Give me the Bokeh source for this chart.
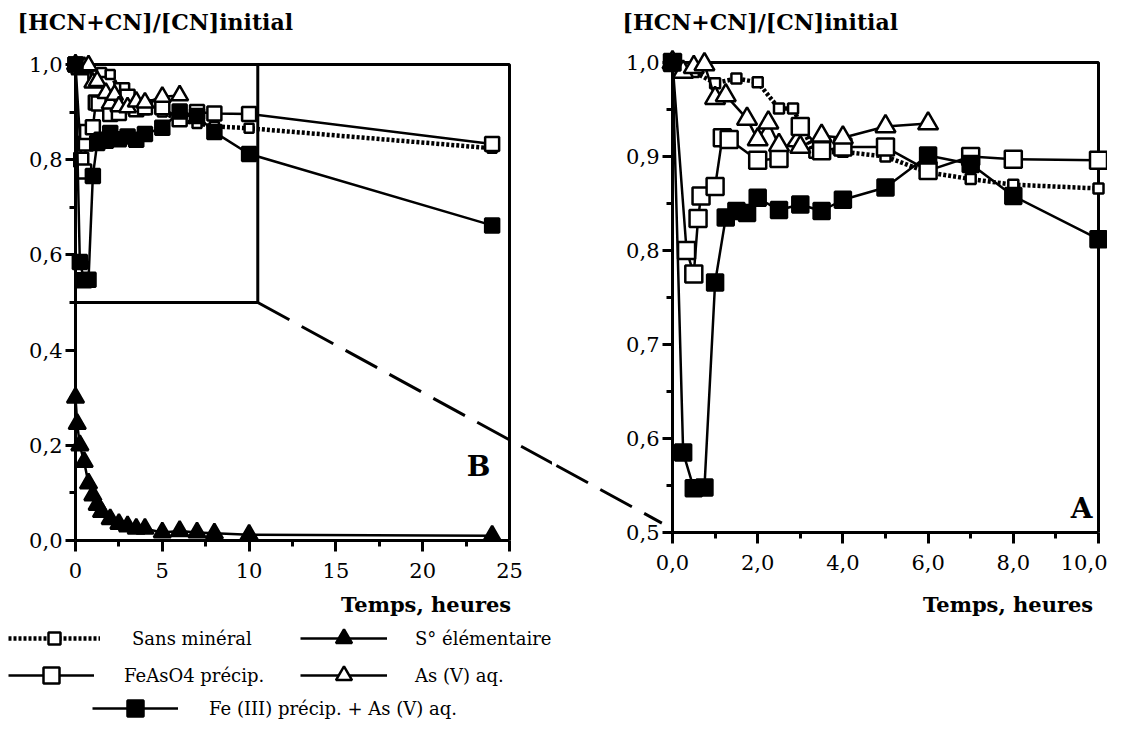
from bokeh.plotting import figure
from bokeh.layouts import row
from bokeh.models import Range1d, FixedTicker, CustomJSTickFormatter, Label, Legend, LegendItem
from bokeh.embed import file_html
from bokeh.resources import INLINE

# ---------------- data ----------------
t_sans = [0, 0.5, 1.0, 1.5, 2.0, 2.5, 2.83, 3.33, 4.0, 5.0, 6.0, 7.0, 8.0, 10.0, 24.0]
c_sans = [1.0, 0.99, 0.978, 0.983, 0.979, 0.951, 0.951, 0.904, 0.905, 0.900, 0.883, 0.876, 0.870, 0.866, 0.824]

t_feaso4 = [0, 0.33, 0.5, 0.6, 0.67, 1.0, 1.17, 1.33, 2.0, 2.5, 3.0, 3.5, 4.0, 5.0, 6.0, 7.0, 8.0, 10.0, 24.0]
c_feaso4 = [1.0, 0.80, 0.775, 0.834, 0.858, 0.868, 0.920, 0.918, 0.896, 0.898, 0.932, 0.906, 0.910, 0.910, 0.885, 0.900, 0.897, 0.896, 0.833]

t_asv = [0, 0.25, 0.5, 0.75, 1.0, 1.25, 1.75, 2.0, 2.25, 2.5, 3.0, 3.5, 4.0, 5.0, 6.0]
c_asv = [1.0, 0.99, 0.995, 0.998, 0.962, 0.965, 0.940, 0.918, 0.936, 0.912, 0.910, 0.922, 0.920, 0.932, 0.935]

t_s0 = [0, 0.1, 0.25, 0.5, 0.75, 1.0, 1.25, 1.5, 2.0, 2.5, 3.0, 3.5, 4.0, 5.0, 6.0, 7.0, 8.0, 10.0, 24.0]
c_s0 = [0.30, 0.245, 0.20, 0.165, 0.12, 0.095, 0.075, 0.06, 0.045, 0.035, 0.03, 0.025, 0.025, 0.017, 0.02, 0.017, 0.015, 0.012, 0.01]

t_fe = [0, 0.25, 0.5, 0.75, 1.0, 1.25, 1.5, 1.75, 2.0, 2.5, 3.0, 3.5, 4.0, 5.0, 6.0, 7.0, 8.0, 10.0, 24.0]
c_fe = [1.0, 0.585, 0.547, 0.548, 0.766, 0.835, 0.842, 0.840, 0.856, 0.843, 0.849, 0.842, 0.854, 0.867, 0.901, 0.892, 0.858, 0.812, 0.662]

labels = ["Sans minéral", "FeAsO4 précip.", "As (V) aq.", "S° élémentaire", "Fe (III) précip. + As (V) aq."]

left_x_ticks = [0, 5, 10, 15, 20, 25]
left_x_minor = [2.5, 7.5, 12.5, 17.5, 22.5]
left_y_ticks = [0.0, 0.2, 0.4, 0.6, 0.8, 1.0]
left_y_minor = [0.1, 0.3, 0.5, 0.7, 0.9]
right_x_ticks = [0, 2, 4, 6, 8, 10]
right_x_minor = [1, 3, 5, 7, 9]
right_y_ticks = [0.5, 0.6, 0.7, 0.8, 0.9, 1.0]
right_y_minor = [0.55, 0.65, 0.75, 0.85, 0.95]

y_title = "[HCN+CN]/[CN]initial"
x_title = "Temps,  heures"

# ---------------- geometry ----------------
LW, LH = 552, 722
RW, RH = 555, 722
L_X0, L_PPX = 75, 17.36          # x=0 at canvas px 75
L_Y0, L_PPY = 540, 476           # y=0 at canvas px 540
R_X0, R_PPX = 672 - LW, 42.6     # x=0 at page px 672
R_Y1, R_PPY = 62, 940            # y=1.0 at px 62

def page_to_left(px, py):
    return ((px - L_X0) / L_PPX, (L_Y0 - py) / L_PPY)

def left_to_page(x, y):
    return (L_X0 + x * L_PPX, L_Y0 - y * L_PPY)

def page_to_right(px, py):
    return ((px - LW - R_X0) / R_PPX, 1.0 - (py - R_Y1) / R_PPY)

def right_to_page(x, y):
    return (LW + R_X0 + x * R_PPX, R_Y1 + (1.0 - y) * R_PPY)

SERIF = "DejaVu Serif"
TICK_SIZE = "21px"

STY = {
    "sans": dict(marker="square", fill="white", dash="3 2", lw=4.5, size=(9, 10)),
    "feaso4": dict(marker="square", fill="white", dash="solid", lw=2.5, size=(14, 17)),
    "asv": dict(marker="triangle", fill="white", dash="solid", lw=2.5, size=(17, 20)),
    "s0": dict(marker="triangle", fill="black", dash="solid", lw=2.5, size=(17, 20)),
    "fe": dict(marker="square", fill="black", dash="solid", lw=2.5, size=(14, 16)),
}


def make_fig(w, h, xr, yr):
    p = figure(width=w, height=h, x_range=Range1d(*xr), y_range=Range1d(*yr),
               output_backend="svg", toolbar_location=None, min_border=0)
    p.outline_line_color = None
    p.grid.visible = False
    p.background_fill_color = "white"
    p.border_fill_color = "white"
    return p


def style_axis(ax, ticks, minor, fmt_code, tick_out, standoff):
    ax.ticker = FixedTicker(ticks=ticks, minor_ticks=minor)
    ax.formatter = CustomJSTickFormatter(code=fmt_code)
    ax.axis_line_width = 3
    ax.axis_line_color = "black"
    ax.major_tick_line_width = 3
    ax.minor_tick_line_width = 3
    ax.major_tick_in = 0
    ax.minor_tick_in = 0
    ax.major_tick_out = tick_out
    ax.minor_tick_out = int(tick_out * 0.6)
    ax.major_label_text_font = SERIF
    ax.major_label_text_font_size = TICK_SIZE
    ax.major_label_text_color = "black"
    ax.major_label_standoff = standoff


def draw(p, xs, ys, sty, size, xmax=None):
    if xmax is not None:
        pts = [(a, b) for a, b in zip(xs, ys) if a <= xmax]
        xs = [a for a, _ in pts]
        ys = [b for _, b in pts]
    lr = p.line(xs, ys, line_color="black", line_width=sty["lw"], line_dash=sty["dash"])
    sr = p.scatter(xs, ys, marker=sty["marker"], size=size, fill_color=sty["fill"],
                   line_color="black", line_width=2.5)
    return lr, sr


COMMA1 = "return tick.toFixed(1).replace('.', ',');"
INT0 = "return tick.toFixed(0);"

# ---------------- left plot (B) ----------------
lx0, ly_top = page_to_left(0, 0)
lx1, ly_bot = page_to_left(LW, LH)
pl = make_fig(LW, LH, (lx0, lx1), (ly_bot, ly_top))
pl.xaxis.fixed_location = 0
pl.xaxis.bounds = (left_x_ticks[0], left_x_ticks[-1])
pl.yaxis.fixed_location = 0
pl.yaxis.bounds = (left_y_ticks[0], left_y_ticks[-1])
style_axis(pl.xaxis[0], left_x_ticks, left_x_minor, INT0, 11, 11)
style_axis(pl.yaxis[0], left_y_ticks, left_y_minor, COMMA1, 10, 3)

XMAX_L, YMAX_L = left_x_ticks[-1], left_y_ticks[-1]
pl.line([0, XMAX_L, XMAX_L], [YMAX_L, YMAX_L, 0], line_color="black", line_width=3)
# zoom box (region enlarged in plot A)
ZX1, ZY0 = 10.5, right_y_ticks[0]
pl.line([0, ZX1, ZX1], [ZY0, ZY0, YMAX_L], line_color="black", line_width=3)

rl = {}
rl["sans"] = draw(pl, t_sans, c_sans, STY["sans"], STY["sans"]["size"][0])
rl["feaso4"] = draw(pl, t_feaso4, c_feaso4, STY["feaso4"], STY["feaso4"]["size"][0])
rl["asv"] = draw(pl, t_asv, c_asv, STY["asv"], STY["asv"]["size"][0])
rl["s0"] = draw(pl, t_s0, c_s0, STY["s0"], STY["s0"]["size"][0])
rl["fe"] = draw(pl, t_fe, c_fe, STY["fe"], STY["fe"]["size"][0])

# ---------------- right plot (A) ----------------
rx0, ry_top = page_to_right(LW, 0)
rx1, ry_bot = page_to_right(LW + RW, RH)
pr = make_fig(RW, RH, (rx0, rx1), (ry_bot, ry_top))
pr.xaxis.fixed_location = right_y_ticks[0]
pr.xaxis.bounds = (right_x_ticks[0], right_x_ticks[-1])
pr.yaxis.fixed_location = 0
pr.yaxis.bounds = (right_y_ticks[0], right_y_ticks[-1])
style_axis(pr.xaxis[0], right_x_ticks, right_x_minor, COMMA1, 11, 11)
style_axis(pr.yaxis[0], right_y_ticks, right_y_minor, COMMA1, 10, 3)

XMAX_R, YMAX_R, YMIN_R = right_x_ticks[-1], right_y_ticks[-1], right_y_ticks[0]
pr.line([0, XMAX_R, XMAX_R], [YMAX_R, YMAX_R, YMIN_R], line_color="black", line_width=3)

draw(pr, t_sans, c_sans, STY["sans"], STY["sans"]["size"][1], XMAX_R)
draw(pr, t_feaso4, c_feaso4, STY["feaso4"], STY["feaso4"]["size"][1], XMAX_R)
draw(pr, t_asv, c_asv, STY["asv"], STY["asv"]["size"][1], XMAX_R)
draw(pr, t_fe, c_fe, STY["fe"], STY["fe"]["size"][1], XMAX_R)

# ---------------- dashed connector between the two panels ----------------
A = left_to_page(ZX1, ZY0)
B = right_to_page(-0.25, 0.51)
slope = (B[1] - A[1]) / (B[0] - A[0])
cut_l = LW + 40
cut_r = LW - 40
la = page_to_left(*A)
lb = page_to_left(cut_l, A[1] + slope * (cut_l - A[0]))
pl.line([la[0], lb[0]], [la[1], lb[1]], line_color="black", line_width=3, line_dash="36 14")
ra = page_to_right(cut_r, A[1] + slope * (cut_r - A[0]))
rb = page_to_right(*B)
pr.line([ra[0], rb[0]], [ra[1], rb[1]], line_color="black", line_width=3, line_dash="36 14")

# ---------------- texts ----------------
def add_label(p, conv, text, px, py, size, bold=True, align="left"):
    x, y = conv(px, py)
    p.add_layout(Label(x=x, y=y, text=text, text_font=SERIF, text_font_size=size,
                       text_font_style="bold" if bold else "normal",
                       text_align=align, text_baseline="middle", text_color="black"))

add_label(pl, page_to_left, y_title, 17, 21, "22px")
add_label(pr, page_to_right, y_title, 622, 21, "22px")
add_label(pl, page_to_left, x_title, 518, 604, "21px", align="right")
add_label(pr, page_to_right, x_title, 1100, 604, "21px", align="right")
add_label(pl, page_to_left, "B", 490, 466, "28px", align="right")
add_label(pr, page_to_right, "A", 1092, 508, "28px", align="right")

# ---------------- legend (5 independent entries) ----------------
# key, label index, line start, line end, centre y, text start, glyph height (page px)
LEG = [
    ("sans", 0, 8, 100, 638, 132, 30),
    ("s0", 3, 300, 387, 638, 415, 40),
    ("feaso4", 1, 8, 94, 675, 124, 40),
    ("asv", 2, 300, 387, 675, 415, 40),
    ("fe", 4, 92, 178, 708, 209, 40),
]
for key, li, x0, x1, yc, tx, gh in LEG:
    lg = Legend(items=[LegendItem(label=labels[li], renderers=list(rl[key]))],
                location=(x0, LH - yc - gh // 2),
                glyph_width=x1 - x0, glyph_height=gh, label_height=gh,
                label_standoff=tx - x1, padding=0, margin=0, spacing=0,
                border_line_color=None, background_fill_alpha=0,
                label_text_font=SERIF, label_text_font_size="18px",
                label_text_color="black")
    pl.add_layout(lg)

layout = row(pl, pr)
open("out.html", "w").write(file_html(layout, INLINE))
